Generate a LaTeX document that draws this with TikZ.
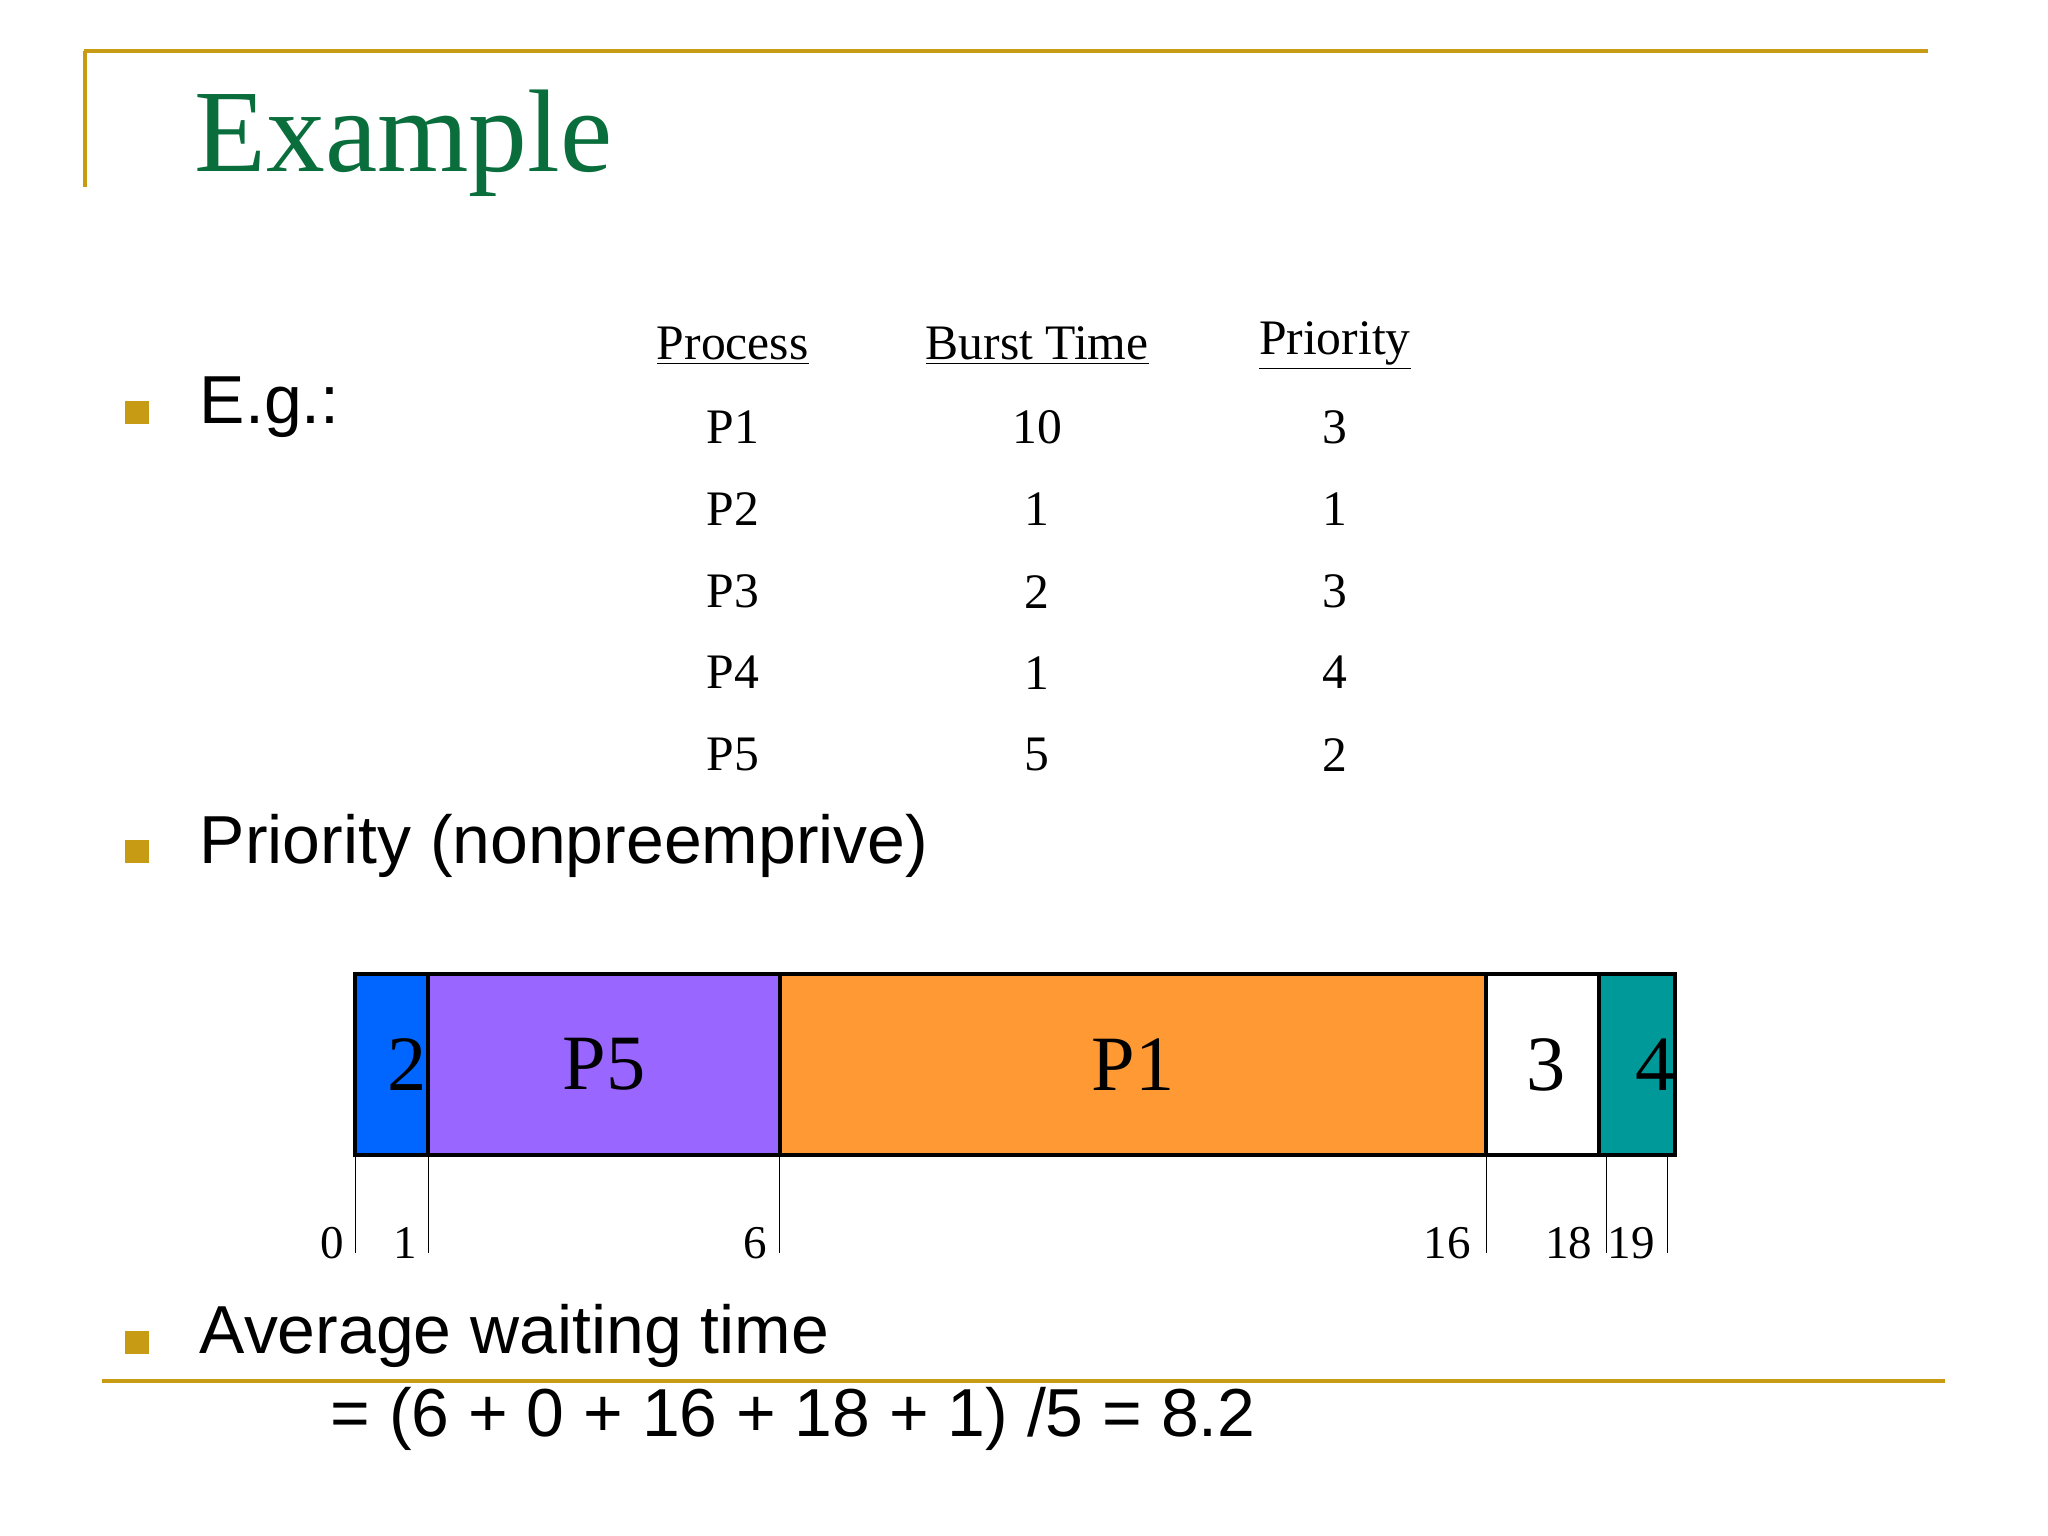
\documentclass[tikz,border=0pt]{standalone}
\usepackage{fontspec}
\setmainfont{Liberation Serif}
\newfontfamily\arialf{Liberation Sans}
\definecolor{gold}{RGB}{200,155,20}
\definecolor{titleg}{RGB}{10,110,60}
\definecolor{pblue}{RGB}{0,102,255}
\definecolor{ppurple}{RGB}{153,102,255}
\definecolor{porange}{RGB}{255,153,51}
\definecolor{pteal}{RGB}{0,153,153}
\begin{document}
\begin{tikzpicture}[x=0.5pt,y=-0.5pt,
  tab/.style={font=\fontsize{19}{19}\selectfont},
  hdr/.style={font=\fontsize{19}{19}\selectfont},
  bul/.style={fill=gold,minimum size=9pt,inner sep=0pt},
  btxt/.style={font=\arialf\fontsize{26}{26}\selectfont,anchor=west},
  seg/.style={draw=black,line width=1.5pt,minimum height=69pt,inner sep=0pt,font=\fontsize{30}{30}\selectfont},
  tick/.style={line width=0.4pt},
  num/.style={font=\fontsize{18}{18}\selectfont}]
\useasboundingbox (0,0) rectangle (1568,1176);
\draw[gold,line width=1.5pt] (64,39) -- (1476,39);
\draw[gold,line width=1.5pt] (65,39) -- (65,143);
\draw[gold,line width=1.5pt] (78,1057) -- (1489,1057);
\node[font=\fontsize{45}{45}\selectfont,text=titleg,anchor=west] (title) at (142,110) {Example};
\node[bul] (b1) at (105,316) {};
\node[btxt] (eg) at (146,312) {E.g.:};
\node[bul] (b2) at (105,652) {};
\node[btxt] (prio) at (146,648) {Priority (nonpreemprive)};
\node[bul] (b3) at (105,1028) {};
\node[btxt] (avg) at (146,1023) {Average waiting time};
\node[btxt] (form) at (246,1086) {= (6 + 0 + 16 + 18 + 1) /5 = 8.2};
\node[hdr] (h1) at (561,265) {\underline{Process}};
\node[hdr] (h2) at (794,265) {\underline{Burst Time}};
\node[hdr] (h3) at (1022,265) {\underline{Priority}};
\foreach \p/\b/\r/\y in {P1/10/3/327,P2/1/1/390,P3/2/3/453,P4/1/4/515,P5/5/2/578}{
  \node[tab] (c\p) at (561,\y) {\p};
  \node[tab] (b\p) at (794,\y) {\b};
  \node[tab] (r\p) at (1022,\y) {\r};
}
\foreach \n/\a/\b/\c/\t in {s2/272/328/pblue/\hspace*{12pt}2,s5/328/597/ppurple/P5,s1/597/1138/porange/P1,s3/1138/1230/white/3,s4/1230/1277/pteal/\hspace*{14pt}4}{
  \pgfmathsetmacro\w{(\b-\a)*0.5}
  \node[seg,fill=\c,minimum width=\w pt] (\n) at ({(\a+\b)/2},815) {\t};
}
\foreach \x in {272,328,597,1138,1230,1277}{
  \coordinate (t\x) at (\x,884);
  \draw[tick] (t\x) -- ++(0,75);
}
\node[num] (n0) at (254,952) {0};
\node[num] (n1) at (310,952) {1};
\node[num] (n6) at (578,952) {6};
\node[num] (n16) at (1108,952) {16};
\node[num] (n18) at (1201,952) {18};
\node[num] (n19) at (1249,952) {19};
\end{tikzpicture}
\end{document}
